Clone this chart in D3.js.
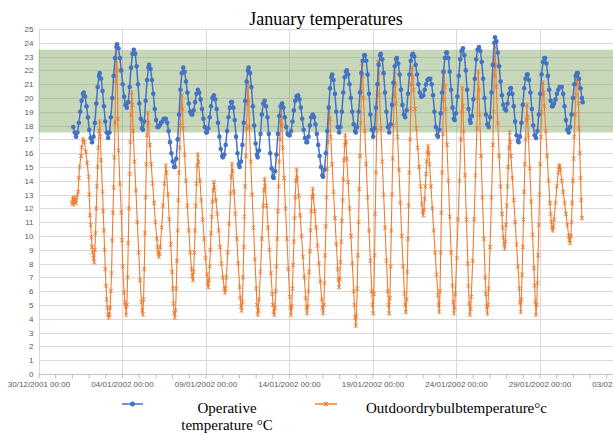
<!DOCTYPE html>
<meta charset="utf-8">
<style>
body { margin: 0; background: #fff; }
.axis text { font: 8px "Liberation Sans", Arial, sans-serif; fill: #595959; }
.grid line { stroke: #d9d9d9; stroke-width: 1; shape-rendering: crispEdges; }
</style>
<body>
<script src="https://d3js.org/d3.v7.min.js"></script>
<script>

// y tick values and x tick labels (every 5 days)
var yTicks = d3.range(0, 26);
var xTickLabels = ["30/12/2001 00:00", "04/01/2002 00:00", "09/01/2002 00:00", "14/01/2002 00:00",
  "19/01/2002 00:00", "24/01/2002 00:00", "29/01/2002 00:00", "03/02/2002 00:00"];
var comfortBand = [17.5, 23.5];
var seriesNames = ["Operative\ntemperature \u00B0C", "Outdoordrybulbtemperature\u00B0c"];

// [hours after 01/01/2002 00:00, degC]
var operative = [
  [2,17.9],[4,17.5],[6,17.2],[8,17.5],[10,18.2],[12,19.0],[14,19.8],[16,20.3],[17,20.4],
  [19,20.1],[21,19.4],[23,18.6],[25,17.7],[27,17.1],[29,16.8],[31,17.2],[33,18.2],[35,19.6],[37,20.8],[39,21.6],[40,21.8],
  [42,21.4],[44,20.5],[46,19.4],[48,18.3],[50,17.5],[52,17.1],[54,17.5],[56,18.6],[58,20.0],[60,21.6],[62,22.9],[64,23.7],[65,23.9],
  [67,23.6],[69,22.9],[71,22.0],[73,21.0],[75,20.1],[77,19.5],[79,19.3],[81,19.7],[83,20.8],[85,22.2],[87,23.2],[89,23.5],
  [91,23.2],[93,22.3],[95,21.0],[97,19.6],[99,18.5],[101,17.8],[102,17.7],[104,18.3],[106,19.8],[108,21.3],[110,22.2],[111,22.4],
  [113,22.1],[115,21.3],[117,20.3],[119,19.2],[121,18.4],[123,17.9],[124,17.9],[126,18.0],[128,18.2],[130,18.3],[132,18.5],[135,18.5],
  [137,18.2],[139,17.6],[141,16.8],[143,16.0],[145,15.4],[147,15.0],[148,15.0],[150,15.6],[152,17.0],[154,18.8],[156,20.6],[158,21.8],[160,22.2],
  [162,21.9],[164,21.2],[166,20.4],[168,19.6],[170,19.0],[172,18.8],[173,18.8],[175,19.1],[177,19.7],[179,20.3],[181,20.6],
  [183,20.4],[185,19.9],[187,19.2],[189,18.5],[191,17.9],[193,17.5],[194,17.5],[196,17.8],[198,18.6],[200,19.4],[202,20.0],[204,20.2],
  [206,19.9],[208,19.2],[210,18.2],[212,17.2],[214,16.3],[216,15.8],[217,15.7],[219,15.9],[221,16.6],[223,17.6],[225,18.6],[227,19.3],[229,19.7],[230,19.7],
  [232,19.3],[234,18.4],[236,17.2],[238,16.0],[240,15.2],[241,15.0],[243,15.4],[245,16.6],[247,18.2],[249,19.8],[251,21.2],[253,22.0],[254,22.2],
  [256,21.8],[258,20.8],[260,19.4],[262,18.0],[264,16.7],[266,15.9],[267,15.7],[269,16.2],[271,17.4],[273,18.8],[275,19.6],[277,19.8],
  [279,19.4],[281,18.6],[283,17.4],[285,16.0],[287,14.9],[289,14.3],[290,14.2],[292,14.7],[294,15.9],[296,17.4],[298,18.7],[300,19.4],[302,19.6],
  [304,19.3],[306,18.6],[308,17.9],[310,17.4],[312,17.3],[313,17.3],[315,17.6],[317,18.3],[319,19.1],[321,19.8],[323,20.1],[325,20.2],
  [327,19.9],[329,19.3],[331,18.5],[333,17.7],[335,17.1],[337,16.8],[338,16.8],[340,17.2],[342,18.0],[344,18.6],[346,18.8],
  [348,18.6],[350,18.1],[352,17.4],[354,16.6],[356,15.8],[358,15.0],[360,14.4],[361,14.3],[363,14.8],[365,16.0],[367,17.6],[369,19.3],[371,20.7],[373,21.5],[374,21.7],
  [376,21.3],[378,20.3],[380,19.0],[382,17.9],[384,17.5],[386,17.9],[388,19.0],[390,20.4],[392,21.5],[394,21.9],[395,22.0],
  [397,21.7],[399,21.0],[401,20.0],[403,19.0],[405,18.1],[407,17.6],[408,17.5],[410,17.9],[412,19.0],[414,20.4],[416,21.8],[418,22.7],[420,23.1],[421,23.1],
  [423,22.7],[425,21.7],[427,20.3],[429,18.8],[431,17.7],[433,17.2],[435,17.8],[437,19.3],[439,21.0],[441,22.4],[443,23.1],[444,23.2],
  [446,22.8],[448,21.8],[450,20.4],[452,19.0],[454,17.9],[456,17.5],[458,18.1],[460,19.5],[462,21.1],[464,22.3],[466,22.8],[467,22.9],
  [469,22.5],[471,21.7],[473,20.6],[475,19.5],[477,18.8],[479,18.6],[481,19.1],[483,20.3],[485,21.7],[487,22.7],[489,23.1],[490,23.2],
  [492,23.0],[494,22.4],[496,21.7],[498,21.0],[500,20.4],[502,20.1],[503,20.1],[505,20.2],[507,20.6],[509,21.0],[511,21.3],[513,21.4],[515,21.4],
  [517,21.0],[519,20.2],[521,19.0],[523,17.9],[525,17.3],[526,17.2],[528,17.7],[530,18.9],[532,20.4],[534,21.9],[536,22.9],[538,23.3],[539,23.3],
  [541,22.9],[543,21.9],[545,20.6],[547,19.3],[549,18.5],[550,18.4],[552,18.9],[554,20.1],[556,21.6],[558,22.8],[560,23.4],[562,23.6],
  [564,23.1],[566,22.0],[568,20.6],[570,19.2],[572,18.4],[573,18.2],[575,18.7],[577,19.9],[579,21.4],[581,22.8],[583,23.5],[585,23.7],
  [587,23.4],[589,22.6],[591,21.4],[593,20.0],[595,18.8],[597,18.1],[599,17.9],[601,18.6],[603,20.4],[605,22.4],[607,24.0],[608,24.4],
  [610,24.1],[612,23.3],[614,22.3],[616,21.2],[618,20.2],[620,19.5],[622,19.2],[624,19.1],[626,19.6],[628,20.3],[630,20.7],[631,20.7],
  [633,20.3],[635,19.4],[637,18.3],[639,17.3],[641,16.9],[642,16.8],[644,17.2],[646,18.2],[648,19.5],[650,20.7],[652,21.4],[654,21.7],[655,21.7],
  [657,21.3],[659,20.4],[661,19.2],[663,18.0],[665,17.3],[667,17.1],[669,17.6],[671,18.8],[673,20.3],[675,21.7],[677,22.6],[679,22.9],[680,22.9],
  [682,22.5],[684,21.6],[686,20.6],[688,19.8],[690,19.4],[691,19.4],[693,19.6],[695,19.9],[697,20.3],[699,20.6],[701,20.8],[704,20.8],
  [706,20.3],[708,19.4],[710,18.4],[712,17.7],[714,17.5],[716,17.9],[718,18.8],[720,20.0],[722,21.0],[724,21.6],[726,21.8],[727,21.8],
  [729,21.4],[731,20.7],[733,20.0],[734,19.7]
];

var outdoor = [
  [0,12.4],[1,12.7],[2,12.3],[3,12.8],[4,12.5],[5,12.6],[6,12.4],[7,12.8],[9,13.2],[10,14.2],[11,15.0],[13,15.8],[14,16.4],[16,17.0],
  [18,16.8],[20,16.1],[22,15.3],[24,14.3],[25,13.0],[26,11.5],[27,10.8],[28,9.9],[29,9.2],[30,8.8],[31,8.4],[32,8.1],
  [33,9.0],[34,10.2],[35,12.0],[36,13.6],[37,15.0],[38,16.4],[39,17.6],[40,18.3],
  [41,17.2],[42,15.5],[44,13.2],[45,11.8],[46,10.4],[47,9.0],[48,7.6],[49,6.4],[50,5.4],[51,4.8],[52,4.3],[53,4.1],
  [54,4.3],[55,4.8],[56,6.0],[57,7.3],[58,9.7],[59,11.7],[60,13.5],[61,15.7],[62,18.2],[63,21.2],[64,23.8],
  [65,22.0],[66,18.5],[67,16.2],[69,13.8],[71,11.7],[72,9.7],[73,7.8],[75,5.9],[76,5.2],[77,4.9],[78,4.3],
  [79,5.0],[80,7.0],[81,9.5],[82,12.0],[83,14.5],[84,16.8],[85,18.8],[86,20.4],
  [87,19.5],[88,17.6],[90,15.4],[92,13.3],[94,11.0],[96,8.8],[98,6.8],[100,5.2],[101,4.6],[102,4.3],
  [103,5.4],[104,7.6],[105,10.2],[106,12.8],[107,15.2],[108,17.3],[109,18.9],
  [110,18.2],[112,16.6],[114,15.2],[116,13.8],[118,12.4],[120,11.0],[122,9.8],[123,9.2],[124,8.8],[125,8.5],
  [126,8.7],[127,9.2],[129,10.6],[131,12.2],[133,13.8],[135,15.1],
  [136,14.6],[138,13.0],[140,11.2],[142,9.4],[144,7.4],[145,6.2],[146,5.1],[147,4.4],[148,4.1],
  [149,4.6],[150,6.2],[151,8.2],[152,10.4],[153,12.6],[154,14.6],[155,16.4],[156,18.0],[157,19.3],[158,20.2],
  [159,19.2],[160,17.8],[162,15.9],[164,14.0],[166,12.2],[168,10.4],[170,8.8],[172,7.6],[173,7.1],[174,6.8],
  [175,7.4],[176,8.8],[177,10.4],[178,12.2],[179,13.8],[180,15.1],[181,15.9],
  [182,15.4],[184,14.0],[186,12.6],[188,11.2],[190,9.8],[192,8.4],[194,7.2],[195,6.6],[196,6.3],
  [197,6.8],[198,7.8],[199,9.0],[200,10.2],[201,11.4],[202,12.5],[203,13.3],[204,13.9],
  [205,13.5],[207,12.6],[209,11.6],[211,10.4],[213,9.2],[215,8.0],[217,7.0],[219,6.2],[220,5.9],
  [221,6.2],[222,7.0],[224,8.8],[226,10.9],[228,13.1],[229,14.3],[230,15.2],
  [231,14.7],[233,13.2],[235,11.6],[237,9.8],[239,8.0],[241,6.3],[242,5.5],[243,4.9],[244,4.6],
  [245,5.2],[246,7.0],[247,9.2],[248,11.4],[249,13.6],[250,15.8],[251,17.8],[252,19.6],[253,21.1],
  [254,19.8],[255,17.9],[257,15.4],[259,13.0],[261,10.6],[263,8.3],[265,6.2],[266,5.0],[267,4.3],
  [268,4.6],[269,5.4],[271,7.4],[273,9.8],[275,12.2],[276,13.3],[277,14.1],
  [278,13.6],[280,12.2],[282,10.6],[284,9.0],[286,7.3],[288,5.8],[289,5.0],[290,4.5],[291,4.3],
  [292,4.8],[293,6.0],[294,7.8],[295,9.8],[296,11.8],[297,13.6],[298,15.4],[299,17.0],[300,18.3],[301,19.1],
  [302,18.0],[303,16.4],[305,14.2],[307,12.0],[309,9.8],[311,7.6],[313,5.6],[314,4.8],[315,4.3],
  [316,4.9],[317,6.2],[318,7.9],[319,9.6],[320,11.3],[321,12.8],[322,14.0],[323,14.8],
  [324,14.2],[326,12.9],[328,11.5],[330,10.0],[332,8.5],[334,7.0],[336,5.5],[337,4.8],[338,4.4],
  [339,4.9],[340,6.0],[341,7.4],[342,8.9],[343,10.4],[344,11.8],[345,12.8],[346,13.4],
  [347,12.9],[349,11.8],[351,10.6],[353,9.3],[355,8.0],[357,6.7],[359,5.4],[360,4.8],[361,4.4],
  [362,5.0],[363,6.6],[364,8.6],[365,10.7],[366,12.8],[367,14.9],[368,16.8],[369,18.3],[370,19.3],
  [371,18.5],[372,17.2],[374,15.2],[376,13.2],[378,11.3],[380,9.4],[382,7.6],[383,6.8],[384,6.3],
  [385,6.9],[386,8.1],[387,9.6],[388,11.1],[389,12.6],[390,14.1],[391,15.5],[392,16.6],[393,17.3],
  [394,16.8],[395,15.6],[397,13.9],[399,12.0],[401,10.0],[403,8.0],[405,6.0],[406,5.0],[407,4.1],[408,3.5],
  [409,4.2],[410,6.2],[411,8.6],[412,11.0],[413,13.4],[414,15.8],[415,18.2],[416,20.5],[417,22.5],
  [418,21.6],[419,20.0],[421,17.6],[423,15.2],[425,12.8],[427,10.4],[429,8.2],[431,6.0],[432,5.0],[433,4.4],
  [434,5.8],[435,8.6],[436,11.6],[437,14.6],[438,17.6],[439,20.4],[440,22.6],
  [441,21.8],[442,20.2],[444,17.8],[446,15.4],[448,13.0],[450,10.6],[452,8.2],[454,6.0],[455,5.0],[456,4.4],
  [457,5.5],[458,7.8],[459,10.4],[460,13.0],[461,15.6],[462,18.0],[463,20.2],[464,21.9],
  [465,21.0],[466,19.6],[468,17.2],[470,14.8],[472,12.4],[474,10.0],[476,7.8],[478,5.8],[479,5.0],[480,4.5],
  [481,5.4],[482,7.4],[483,9.8],[484,12.2],[485,14.6],[486,17.0],[487,19.2],[488,21.0],[489,22.2],
  [490,21.5],[491,20.6],[493,19.2],[495,17.8],[497,16.4],[499,15.0],[501,13.6],[503,12.3],[504,11.8],[505,11.5],
  [506,11.9],[507,12.7],[508,13.6],[509,14.5],[510,15.4],[511,16.1],[512,16.5],
  [513,16.0],[514,15.2],[516,13.6],[518,12.0],[520,10.4],[522,8.8],[524,7.2],[526,5.7],[527,5.0],[528,4.5],
  [529,6.0],[530,8.8],[531,11.7],[532,14.6],[533,17.4],[534,19.9],[535,21.9],
  [536,20.8],[537,19.2],[539,16.6],[541,14.0],[543,11.4],[545,8.8],[547,6.4],[548,5.2],[549,4.4],
  [550,4.8],[551,5.8],[553,8.4],[555,11.2],[557,14.0],[559,17.0],[560,19.0],[561,20.7],
  [562,19.4],[563,17.6],[565,14.4],[567,11.2],[569,8.0],[570,6.4],[571,5.1],[572,4.3],
  [573,4.7],[574,5.6],[576,8.2],[578,11.2],[580,14.4],[582,17.8],[583,20.0],[584,21.9],
  [585,20.6],[586,18.8],[588,15.8],[590,12.8],[592,9.8],[594,7.0],[595,5.8],[596,4.9],[597,4.4],
  [598,5.0],[599,6.2],[601,9.2],[603,12.8],[605,16.6],[606,19.0],[607,21.6],[608,23.7],
  [609,22.4],[610,20.8],[612,18.2],[614,15.8],[616,13.6],[618,11.6],[619,10.6],[620,9.9],[621,9.4],[622,9.1],
  [623,9.6],[624,10.8],[625,12.2],[626,13.6],[627,15.0],[628,16.4],[629,17.5],
  [630,16.8],[631,15.8],[633,14.2],[635,12.6],[637,11.0],[639,9.4],[641,7.8],[643,6.2],[644,5.2],[645,4.5],
  [646,5.4],[647,7.2],[648,9.2],[649,11.2],[650,13.2],[651,15.2],[652,17.0],[653,18.4],[654,19.5],
  [655,18.6],[656,17.3],[658,14.9],[660,12.5],[662,10.1],[664,7.7],[665,6.4],[666,5.2],[667,4.3],
  [668,5.0],[669,6.6],[670,8.6],[671,10.8],[672,13.0],[673,15.2],[674,17.2],[675,19.0],[676,20.3],[677,21.1],
  [678,20.4],[679,19.4],[681,17.6],[683,15.8],[685,14.0],[687,12.4],[688,11.6],[689,11.0],[690,10.6],[691,10.4],
  [692,10.7],[693,11.2],[695,12.4],[697,13.6],[699,14.6],[700,15.0],[701,15.1],
  [702,14.8],[704,14.0],[706,13.2],[708,12.4],[710,11.6],[712,10.8],[714,10.0],[715,9.7],[716,9.5],
  [717,10.0],[718,11.0],[719,12.4],[720,14.0],[721,15.6],[722,17.2],[723,18.8],[724,20.2],[725,21.2],[726,21.7],
  [727,21.0],[728,19.6],[729,17.8],[730,16.0],[731,14.2],[732,12.6],[733,11.3]
];

var width = 613, height = 434;
var serif = "'Liberation Serif', 'DejaVu Serif', 'Times New Roman', serif";
var t0 = Date.UTC(2002, 0, 1);
function toDate(h) { return new Date(t0 + h * 3600000); }
var parseLabel = d3.utcParse("%d/%m/%Y %H:%M");
var tickDates = xTickLabels.map(parseLabel);

var x = d3.scaleUtc()
    .domain([tickDates[0], tickDates[tickDates.length - 1]])
    .range([38.5, 623]);
var y = d3.scaleLinear().domain([0, 25]).range([374, 29]);

var svg = d3.select("body").append("svg")
    .attr("width", width).attr("height", height);

// horizontal gridlines
svg.append("g").attr("class", "grid")
  .selectAll("line").data(yTicks.filter(function(d) { return d > 0; }))
  .enter().append("line")
    .attr("x1", x.range()[0]).attr("x2", x.range()[1])
    .attr("y1", function(d) { return Math.round(y(d)) + 0.5; })
    .attr("y2", function(d) { return Math.round(y(d)) + 0.5; });

// vertical gridlines at labelled dates
svg.append("g").attr("class", "grid")
  .selectAll("line").data(tickDates)
  .enter().append("line")
    .attr("x1", function(d) { return Math.round(x(d)) + 0.5; })
    .attr("x2", function(d) { return Math.round(x(d)) + 0.5; })
    .attr("y1", y(25)).attr("y2", y(0));

// comfort band
svg.append("rect")
    .attr("x", x.range()[0]).attr("width", x.range()[1] - x.range()[0])
    .attr("y", y(comfortBand[1])).attr("height", y(comfortBand[0]) - y(comfortBand[1]))
    .attr("fill", "rgb(118,160,90)").attr("fill-opacity", 0.42);

// y axis labels
var yAxis = d3.axisLeft(y).tickValues(yTicks).tickSize(0).tickPadding(5);
svg.append("g").attr("class", "axis")
    .attr("transform", "translate(" + x.range()[0] + ",0)")
    .call(yAxis)
    .call(function(g) { g.select(".domain").remove(); });

// x axis: daily ticks, labels every 5 days
var labelSet = tickDates.map(function(d) { return +d; });
var xAxis = d3.axisBottom(x)
    .tickValues(d3.utcDay.range(tickDates[0], d3.utcDay.offset(tickDates[tickDates.length - 1], 1)))
    .tickSize(4).tickPadding(3)
    .tickFormat(function(d) {
      var i = labelSet.indexOf(+d);
      return i >= 0 ? xTickLabels[i] : "";
    });
var gx = svg.append("g").attr("class", "axis")
    .attr("transform", "translate(0," + (Math.round(y(0)) + 0.5) + ")")
    .call(xAxis);
gx.select(".domain").attr("stroke", "#bfbfbf").attr("d", "M" + x.range()[0] + ",0H" + x.range()[1]);
gx.selectAll(".tick line").attr("stroke", "#bfbfbf");

// series
var line = d3.line()
    .x(function(d) { return x(toDate(d[0])); })
    .y(function(d) { return y(d[1]); });

var blue = "#4472c4", orange = "#ed7d31";
var starPath = "M-2,-2L2,2M-2,2L2,-2M0,-2.6V2.6";

svg.append("path").datum(outdoor)
    .attr("fill", "none").attr("stroke", orange).attr("stroke-width", 1.1).attr("d", line);
svg.append("g").selectAll("path").data(outdoor)
  .enter().append("path")
    .attr("transform", function(d) { return "translate(" + x(toDate(d[0])) + "," + y(d[1]) + ")"; })
    .attr("d", starPath).attr("stroke", orange).attr("stroke-width", 0.9).attr("fill", "none");

svg.append("path").datum(operative)
    .attr("fill", "none").attr("stroke", blue).attr("stroke-width", 1.5).attr("d", line);
svg.append("g").selectAll("circle").data(operative)
  .enter().append("circle")
    .attr("cx", function(d) { return x(toDate(d[0])); })
    .attr("cy", function(d) { return y(d[1]); })
    .attr("r", 2.3).attr("fill", blue);

// title
svg.append("text")
    .attr("x", 326).attr("y", 25).attr("text-anchor", "middle")
    .style("font-family", serif).style("font-size", "18px").style("fill", "#000")
    .text("January temperatures");

// legend
var legend = svg.append("g")
    .style("font-family", serif).style("font-size", "15px").style("fill", "#000");
legend.append("line").attr("x1", 122).attr("x2", 143).attr("y1", 404).attr("y2", 404)
    .attr("stroke", blue).attr("stroke-width", 1.5);
legend.append("circle").attr("cx", 132.5).attr("cy", 404).attr("r", 2.5).attr("fill", blue);
var t1 = legend.append("text").attr("x", 227).attr("y", 413).attr("text-anchor", "middle");
seriesNames[0].split("\n").forEach(function(s, i) {
  t1.append("tspan").attr("x", 227).attr("dy", i ? 17 : 0).text(s);
});
legend.append("line").attr("x1", 315).attr("x2", 337).attr("y1", 404).attr("y2", 404)
    .attr("stroke", orange).attr("stroke-width", 1.5);
legend.append("path").attr("transform", "translate(326,404)").attr("d", starPath)
    .attr("stroke", orange).attr("fill", "none");
legend.append("text").attr("x", 366).attr("y", 413).text(seriesNames[1]);

</script>
</body>
